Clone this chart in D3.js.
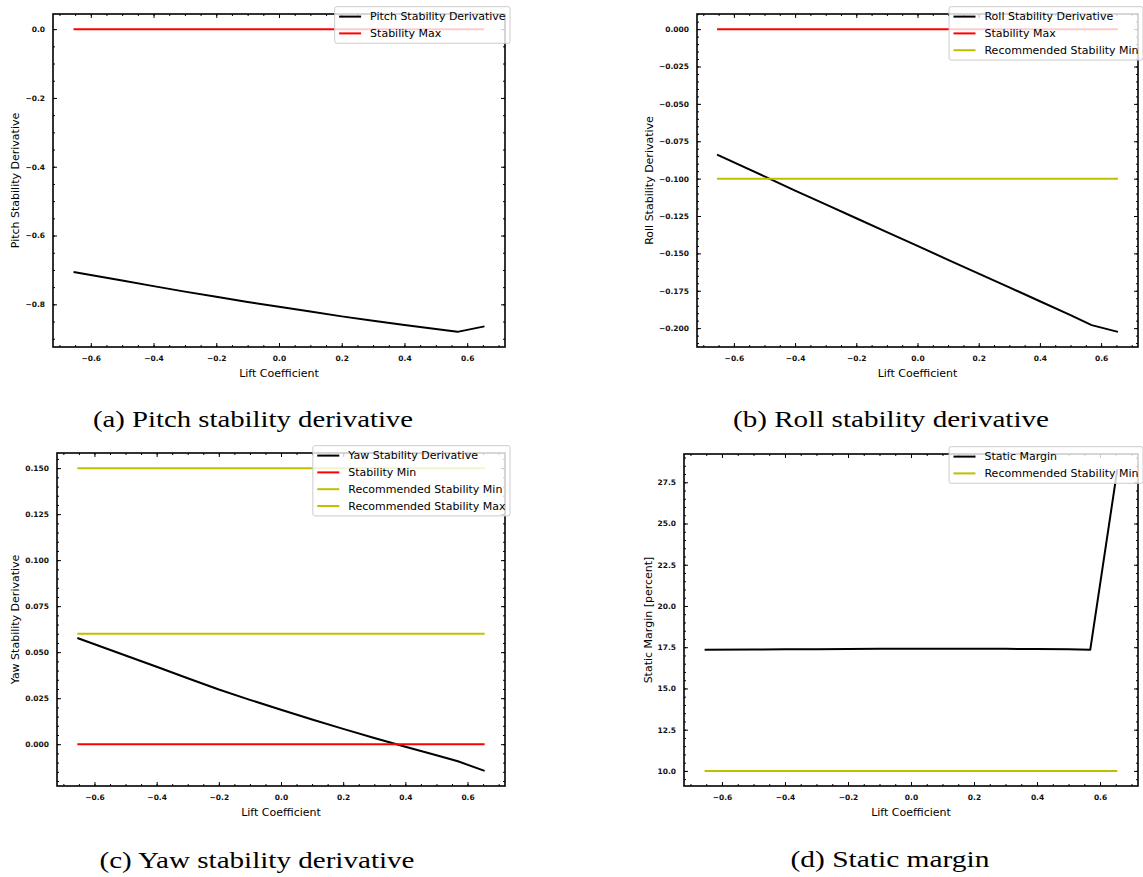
<!DOCTYPE html>
<html>
<head>
<meta charset="utf-8">
<script src="https://cdn.jsdelivr.net/npm/d3@7"></script>
<style>
  html, body { margin: 0; padding: 0; background: #fff; }
  svg { display: block; }
  .tick text { font-family: "DejaVu Sans", sans-serif; font-size: 7.5px; font-weight: bold; fill: #111; }
  .lbl { font-family: "DejaVu Sans", sans-serif; font-size: 11px; fill: #000; }
  .cap { font-family: "Liberation Serif", "Times New Roman", serif; font-size: 24px; fill: #000; }
</style>
</head>
<body>
<svg id="chart" width="1143" height="877"></svg>
<script>
// ---- data ----
const liftCoefficient = [-0.655, -0.5, -0.4, -0.3, -0.2, -0.1, 0.0, 0.1, 0.2, 0.3, 0.4, 0.5, 0.569, 0.655];

const pitchDerivative = [-0.706, -0.731, -0.747, -0.763, -0.778, -0.793, -0.807, -0.821, -0.835, -0.848, -0.860, -0.872, -0.880, -0.864];
const rollDerivative  = [-0.084, -0.0985, -0.108, -0.1172, -0.1265, -0.1358, -0.145, -0.1543, -0.1635, -0.1728, -0.182, -0.1913, -0.198, -0.2025];
const yawDerivative   = [0.0577, 0.0482, 0.0421, 0.0358, 0.0297, 0.0241, 0.0187, 0.0134, 0.0083, 0.0034, -0.0014, -0.006, -0.0093, -0.0145];
const staticMargin    = [17.35, 17.36, 17.37, 17.38, 17.39, 17.40, 17.41, 17.41, 17.41, 17.40, 17.39, 17.37, 17.35, 28.3];

// limit lines (constant values)
const pitchLimits = [{ name: "Stability Max", value: 0.0, color: "red" }];
const rollLimits  = [{ name: "Stability Max", value: 0.0, color: "red" },
                     { name: "Recommended Stability Min", value: -0.1, color: "#bfbf00" }];
const yawLimits   = [{ name: "Stability Min", value: 0.0, color: "red" },
                     { name: "Recommended Stability Min", value: 0.06, color: "#bfbf00" },
                     { name: "Recommended Stability Max", value: 0.15, color: "#bfbf00" }];
const smLimits    = [{ name: "Recommended Stability Min", value: 10.0, color: "#bfbf00" }];

// tick labels
const xTicks = [-0.6, -0.4, -0.2, 0.0, 0.2, 0.4, 0.6];
const pitchTicks = [0.0, -0.2, -0.4, -0.6, -0.8];
const rollTicks  = [0.0, -0.025, -0.05, -0.075, -0.1, -0.125, -0.15, -0.175, -0.2];
const yawTicks   = [0.0, 0.025, 0.05, 0.075, 0.1, 0.125, 0.15];
const smTicks    = [10.0, 12.5, 15.0, 17.5, 20.0, 22.5, 25.0, 27.5];

const captions = ["(a) Pitch stability derivative", "(b) Roll stability derivative",
                  "(c) Yaw stability derivative", "(d) Static margin"];

// ---- layout ----
const panels = [
  { box: [53, 14, 505, 347], values: pitchDerivative, name: "Pitch Stability Derivative", yLabel: "Pitch Stability Derivative",
    limits: pitchLimits, yTicks: pitchTicks, yStep: 0.2, yMinor: 4, fmt: ".1f", labelX: 15,
    cap: [253, 427, 320] },
  { box: [697, 14, 1138, 347], values: rollDerivative, name: "Roll Stability Derivative", yLabel: "Roll Stability Derivative",
    limits: rollLimits, yTicks: rollTicks, yStep: 0.025, yMinor: 5, fmt: ".3f", labelX: 649,
    cap: [891, 427, 316] },
  { box: [57, 453, 505, 786], values: yawDerivative, name: "Yaw Stability Derivative", yLabel: "Yaw Stability Derivative",
    limits: yawLimits, yTicks: yawTicks, yStep: 0.025, yMinor: 5, fmt: ".3f", labelX: 15,
    cap: [257, 868, 315] },
  { box: [684, 454, 1138, 786], values: staticMargin, name: "Static Margin", yLabel: "Static Margin [percent]",
    limits: smLimits, yTicks: smTicks, yStep: 2.5, yMinor: 5, fmt: ".1f", labelX: 648,
    cap: [890, 867, 199] }
];

const svg = d3.select("#chart");

function padded(lo, hi) {
  const m = (hi - lo) * 0.05;
  return [lo - m, hi + m];
}

function minorTicks(domain, step, n) {
  const s = step / n;
  const start = Math.ceil(domain[0] / s) * s;
  return d3.range(start, domain[1] + s * 0.01, s).filter(v => v >= domain[0] && v <= domain[1]);
}

panels.forEach((p, i) => {
  const [x0, y0, x1, y1] = p.box;
  const w = x1 - x0, h = y1 - y0;
  const g = svg.append("g").attr("transform", `translate(${x0},${y0})`);

  const xExt = d3.extent(liftCoefficient);
  const allY = p.values.concat(p.limits.map(l => l.value));
  const yExt = d3.extent(allY);

  const x = d3.scaleLinear().domain(padded(xExt[0], xExt[1])).range([0, w]);
  const y = d3.scaleLinear().domain(padded(yExt[0], yExt[1])).range([h, 0]);

  const xMinor = minorTicks(x.domain(), 0.2, 4);
  const yMinor = minorTicks(y.domain(), p.yStep, p.yMinor);

  // axes with inward ticks on all four sides
  const fmtY = d3.format(p.fmt);
  const fmtX = d3.format(".1f");
  g.append("g").attr("transform", `translate(0,${h})`)
    .call(d3.axisBottom(x).tickValues(xTicks).tickFormat(fmtX).tickSize(-4).tickSizeOuter(0).tickPadding(9));
  g.append("g").attr("transform", `translate(0,${h})`)
    .call(d3.axisBottom(x).tickValues(xMinor).tickFormat("").tickSize(-2).tickSizeOuter(0));
  g.append("g").call(d3.axisTop(x).tickValues(xTicks).tickFormat("").tickSize(-4).tickSizeOuter(0));
  g.append("g").call(d3.axisTop(x).tickValues(xMinor).tickFormat("").tickSize(-2).tickSizeOuter(0));

  g.append("g")
    .call(d3.axisLeft(y).tickValues(p.yTicks).tickFormat(fmtY).tickSize(-4).tickSizeOuter(0).tickPadding(8));
  g.append("g").call(d3.axisLeft(y).tickValues(yMinor).tickFormat("").tickSize(-2).tickSizeOuter(0));
  g.append("g").attr("transform", `translate(${w},0)`)
    .call(d3.axisRight(y).tickValues(p.yTicks).tickFormat("").tickSize(-4).tickSizeOuter(0));
  g.append("g").attr("transform", `translate(${w},0)`)
    .call(d3.axisRight(y).tickValues(yMinor).tickFormat("").tickSize(-2).tickSizeOuter(0));

  g.selectAll(".domain").remove();
  g.selectAll(".tick line").attr("stroke", "#000").attr("stroke-width", 1);

  // series
  const line = d3.line().x(d => x(d[0])).y(d => y(d[1]));
  const series = [{ name: p.name, color: "#000", pts: liftCoefficient.map((c, k) => [c, p.values[k]]) }]
    .concat(p.limits.map(l => ({ name: l.name, color: l.color, pts: [[xExt[0], l.value], [xExt[1], l.value]] })));

  series.forEach(s => {
    g.append("path").attr("d", line(s.pts))
      .attr("fill", "none").attr("stroke", s.color).attr("stroke-width", 2)
      .attr("stroke-linejoin", "round");
  });

  // frame
  g.append("rect").attr("width", w).attr("height", h)
    .attr("fill", "none").attr("stroke", "#000").attr("stroke-width", 1.6);

  // axis labels
  g.append("text").attr("class", "lbl").attr("x", w / 2).attr("y", h + 26)
    .attr("dy", "0.35em").attr("text-anchor", "middle").text("Lift Coefficient");
  svg.append("text").attr("class", "lbl")
    .attr("transform", `translate(${p.labelX},${y0 + h / 2}) rotate(-90)`)
    .attr("dy", "0.35em").attr("text-anchor", "middle").text(p.yLabel);

  // legend (upper right, spilling slightly past the frame)
  const rowH = 16.8;
  const lg = svg.append("g");
  const bg = lg.append("rect");
  let maxW = 0;
  const rows = series.map((s, k) => {
    const r = lg.append("g");
    r.append("line").attr("x1", 0).attr("x2", 22).attr("stroke", s.color).attr("stroke-width", 2);
    const t = r.append("text").attr("class", "lbl").attr("x", 31).attr("dy", "0.35em").text(s.name);
    maxW = Math.max(maxW, t.node().getComputedTextLength());
    return r;
  });
  const boxW = 4.4 + 31 + maxW + 4.4;
  const boxH = series.length * rowH + 3;
  const bx = x1 + 5 - boxW, by = y0 - 7.3;
  bg.attr("x", bx).attr("y", by).attr("width", boxW).attr("height", boxH).attr("rx", 2)
    .attr("fill", "#fff").attr("fill-opacity", 0.8).attr("stroke", "#cccccc").attr("stroke-width", 1);
  rows.forEach((r, k) => r.attr("transform", `translate(${bx + 4.4},${by + 1.5 + rowH * (k + 0.5)})`));

  // caption
  svg.append("text").attr("class", "cap").attr("x", p.cap[0]).attr("y", p.cap[1])
    .attr("text-anchor", "middle").attr("textLength", p.cap[2]).attr("lengthAdjust", "spacingAndGlyphs")
    .text(captions[i]);
});
</script>
</body>
</html>
